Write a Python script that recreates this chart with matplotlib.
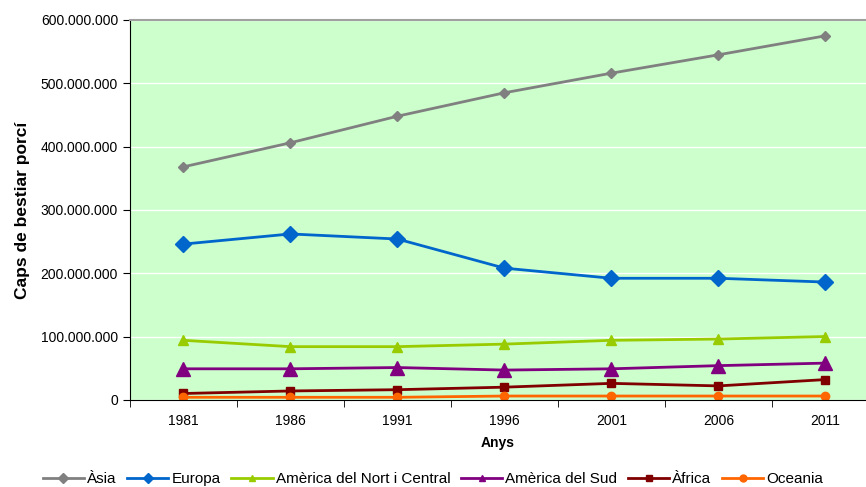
import matplotlib
matplotlib.use("Agg")
import matplotlib.pyplot as plt
from matplotlib.ticker import FuncFormatter, FixedLocator

plt.rcParams['font.family'] = ['Liberation Sans', 'DejaVu Sans']

anys = ['1981', '1986', '1991', '1996', '2001', '2006', '2011']

asia = [368e6, 406e6, 448e6, 485e6, 516e6, 545e6, 575e6]
europa = [246e6, 262e6, 254e6, 208e6, 192e6, 192e6, 186e6]
america_nc = [94e6, 84e6, 84e6, 88e6, 94e6, 96e6, 100e6]
america_sud = [49e6, 49e6, 51e6, 47e6, 49e6, 54e6, 58e6]
africa = [10e6, 14e6, 16e6, 20e6, 26e6, 22e6, 32e6]
oceania = [4e6, 4e6, 4e6, 6e6, 6e6, 6e6, 6e6]

series = [
    ('Àsia', asia, '#808080', 'D', 5),
    ('Europa', europa, '#0066CC', 'D', 8),
    ('Amèrica del Nort i Central', america_nc, '#99CC00', '^', 7),
    ('Amèrica del Sud', america_sud, '#800080', '^', 10),
    ('Àfrica', africa, '#800000', 's', 6),
    ('Oceania', oceania, '#FF6600', 'o', 6),
]

fig = plt.figure(figsize=(8.66, 4.87), dpi=100)
ax = fig.add_axes([0.150, 0.179, 0.850, 0.780])
ax.set_facecolor('#CCFFCC')

x = range(len(anys))
for name, vals, col, mk, ms in series:
    ax.plot(x, vals, color=col, marker=mk, markersize=ms, linewidth=2, label=name)

ax.set_ylim(0, 600e6)
# plot area runs a little past the right edge of the picture
ax.set_xlim(-0.5, 6.5 - (879 - 866) / 107)
ax.set_yticks([i * 100e6 for i in range(7)])
ax.yaxis.set_major_formatter(FuncFormatter(lambda v, p: f"{int(v):,}".replace(",", ".")))
ax.grid(axis='y', color='white', linewidth=1)
ax.set_axisbelow(True)

ax.set_xticks(list(x))
ax.set_xticklabels(anys)
ax.xaxis.set_minor_locator(FixedLocator([i - 0.5 for i in range(8)]))
ax.tick_params(axis='x', which='major', length=0, pad=10, labelsize=10)
ax.tick_params(axis='x', which='minor', length=5, color='black')
ax.tick_params(axis='y', length=5, labelsize=10)

ax.spines['right'].set_visible(False)
ax.spines['top'].set_color('#A0A0A0')
ax.spines['top'].set_linewidth(1.5)
ax.spines['left'].set_color('black')
ax.spines['bottom'].set_color('black')

ax.set_xlabel('Anys', fontsize=10, fontweight='bold', labelpad=6)
ax.set_ylabel('Caps de bestiar porcí', fontsize=12.5, fontweight='bold', labelpad=8)

leg = fig.legend(loc='lower center', bbox_to_anchor=(0.5, -0.026), ncol=6, frameon=False,
                 fontsize=11, handlelength=2.7, handletextpad=0.2, columnspacing=0.7)
for h in leg.legend_handles:
    h.set_markersize(5)

fig.savefig('out.png', dpi=100)
